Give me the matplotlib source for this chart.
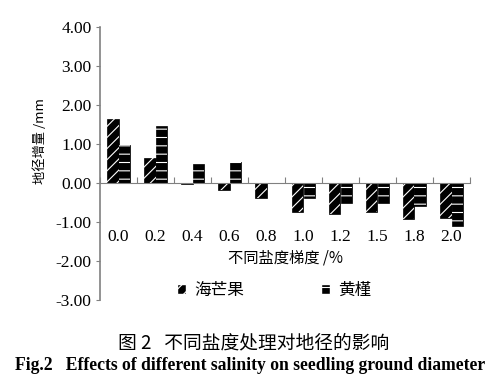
import matplotlib
matplotlib.use("Agg")
import matplotlib.pyplot as plt
import numpy as np
from matplotlib.patches import Patch

plt.rcParams['font.family'] = ['Liberation Serif', 'Noto Sans CJK SC']
plt.rcParams['hatch.linewidth'] = 0.8

categories = ["0.0", "0.2", "0.4", "0.6", "0.8", "1.0", "1.2", "1.5", "1.8", "2.0"]
haimangguo = [1.64, 0.64, -0.02, -0.18, -0.38, -0.75, -0.80, -0.75, -0.92, -0.90]
huangjin = [0.98, 1.47, 0.49, 0.55, 0.0, -0.38, -0.52, -0.50, -0.60, -1.10]
series_names = ["海芒果", "黄槿"]
yticks = [-3, -2, -1, 0, 1, 2, 3, 4]

fig = plt.figure(figsize=(5, 3.91), dpi=100)
ax = fig.add_axes([0.2, 0.2327, 0.74, 0.6982])

x = np.arange(len(categories))
w = 0.31
gray = '#808080'

def hbars(xs, vals, hatch):
    ax.bar(xs, vals, w, color='black', edgecolor='black', linewidth=0.5)
    ax.bar(xs, vals, w, facecolor='none', edgecolor='white', hatch=hatch, linewidth=0)

hbars(x - w / 2, haimangguo, '///')
hbars(x + w / 2, huangjin, '--')

ax.set_xlim(-0.5, len(categories) - 0.5)
ax.set_ylim(-3, 4)
ax.set_yticks(yticks)
ax.set_yticklabels([f"{v:.2f}" for v in yticks], fontsize=12.5)

for s in ['top', 'right']:
    ax.spines[s].set_visible(False)
ax.spines['bottom'].set_position(('data', 0))
ax.spines['bottom'].set_color(gray)
ax.spines['left'].set_color(gray)
ax.spines['left'].set_linewidth(1.2)

ax.set_xticks(np.arange(-0.5, len(categories) + 0.5, 1))
ax.set_xticklabels([])
ax.tick_params(axis='x', which='major', direction='in', length=4, color=gray)
ax.set_xticks(x, minor=True)
ax.set_xticklabels(categories, minor=True, fontsize=12.5)
ax.tick_params(axis='x', which='minor', length=0, pad=33)
ax.tick_params(axis='y', direction='out', length=3, color=gray, pad=3)

ax.text(0.5, 0.154, "不同盐度梯度 /%", transform=ax.transAxes, ha='center', va='center',
        fontsize=11, family=['Noto Sans CJK SC'])
fig.text(0.08, 0.64, "地径增量 /mm", rotation=90, ha='center', va='center',
         fontsize=9.5, family=['Noto Sans CJK SC'])

handles = [Patch(facecolor='black', edgecolor='white', hatch='///'),
           Patch(facecolor='black', edgecolor='white', hatch='--')]
leg = fig.legend(handles, series_names, loc='center', bbox_to_anchor=(0.548, 0.258), ncol=2,
                 frameon=False, handlelength=0.55, handleheight=0.55, handletextpad=0.5,
                 columnspacing=4.6, prop={'family': 'Noto Sans CJK SC', 'size': 12})

fig.text(0.508, 1 - 343 / 391, "图 2   不同盐度处理对地径的影响", ha='center', va='center',
         fontsize=13.5, family=['Noto Sans CJK SC'])
fig.text(0.5, 1 - 366 / 391, "Fig.2   Effects of different salinity on seedling ground diameter",
         ha='center', va='center', fontsize=12.7, fontweight='bold', family=['Liberation Serif'])

fig.savefig("out.png", dpi=100)
